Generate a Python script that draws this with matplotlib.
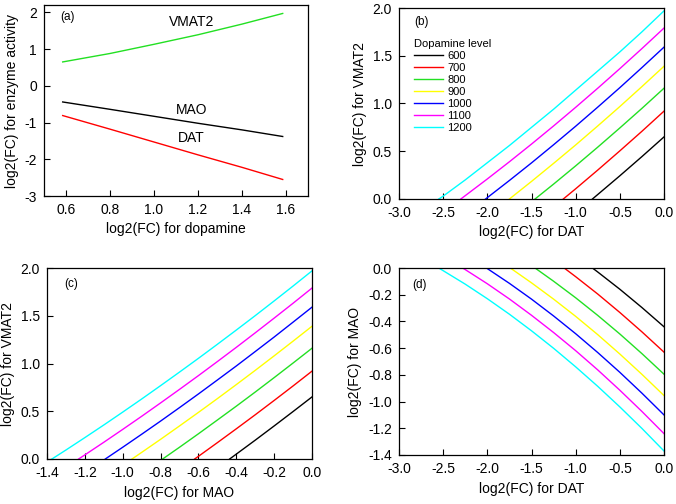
import matplotlib
matplotlib.use('Agg')
import matplotlib.pyplot as plt

plt.rcParams['font.family'] = ['Liberation Sans', 'DejaVu Sans']
plt.rcParams['axes.unicode_minus'] = False

# Panel (a): single enzyme change needed vs dopamine change.
dopamine_fc = [0.585, 0.8, 1.0, 1.2, 1.4, 1.585]
vmat2_fc = [0.65, 0.88, 1.13, 1.39, 1.68, 1.97]
mao_fc = [-0.44, -0.64, -0.83, -1.02, -1.20, -1.38]
dat_fc = [-0.81, -1.18, -1.53, -1.88, -2.22, -2.55]

levels = ['600', '700', '800', '900', '1000', '1100', '1200']
level_colors = ['black', 'red', '#22e022', '#ffff00', '#0000ff', '#ff00ff', '#00ffff']

# Panel (b): log2 FC of DAT (x) vs VMAT2 (y), one curve per dopamine level.
b_x = [
    [-0.81, -0.75, -0.5, -0.25, 0.0],
    [-1.14, -1.0, -0.75, -0.5, -0.25, 0.0],
    [-1.46, -1.25, -1.0, -0.75, -0.5, -0.25, 0.0],
    [-1.75, -1.5, -1.25, -1.0, -0.75, -0.5, -0.25, 0.0],
    [-2.02, -1.75, -1.5, -1.25, -1.0, -0.75, -0.5, -0.25, 0.0],
    [-2.30, -2.25, -2.0, -1.75, -1.5, -1.25, -1.0, -0.75, -0.5, -0.25, 0.0],
    [-2.55, -2.5, -2.25, -2.0, -1.75, -1.5, -1.25, -1.0, -0.75, -0.5, -0.25, 0.0],
]
b_y = [
    [0.0, 0.047, 0.243, 0.444, 0.65],
    [0.0, 0.107, 0.303, 0.504, 0.709, 0.92],
    [0.0, 0.156, 0.347, 0.543, 0.744, 0.949, 1.16],
    [0.0, 0.184, 0.373, 0.566, 0.765, 0.968, 1.177, 1.39],
    [0.0, 0.194, 0.378, 0.568, 0.762, 0.962, 1.166, 1.376, 1.59],
    [0.0, 0.035, 0.21, 0.39, 0.575, 0.765, 0.96, 1.16, 1.365, 1.575, 1.79],
    [0.0, 0.03, 0.20, 0.38, 0.56, 0.75, 0.94, 1.14, 1.34, 1.54, 1.75, 1.97],
]

# Panel (c): log2 FC of MAO (x) vs VMAT2 (y).
c_x = [
    [-0.435, -0.4, -0.3, -0.2, -0.1, 0.0],
    [-0.62, -0.6, -0.5, -0.4, -0.3, -0.2, -0.1, 0.0],
    [-0.789, -0.7, -0.6, -0.5, -0.4, -0.3, -0.2, -0.1, 0.0],
    [-0.951, -0.9, -0.8, -0.7, -0.6, -0.5, -0.4, -0.3, -0.2, -0.1, 0.0],
    [-1.092, -1.0, -0.9, -0.8, -0.7, -0.6, -0.5, -0.4, -0.3, -0.2, -0.1, 0.0],
    [-1.233, -1.2, -1.1, -1.0, -0.9, -0.8, -0.7, -0.6, -0.5, -0.4, -0.3, -0.2, -0.1, 0.0],
    [-1.374, -1.3, -1.2, -1.1, -1.0, -0.9, -0.8, -0.7, -0.6, -0.5, -0.4, -0.3, -0.2, -0.1, 0.0],
]
c_y = [
    [0.0, 0.051, 0.197, 0.346, 0.497, 0.65],
    [0.0, 0.028, 0.171, 0.316, 0.463, 0.613, 0.765, 0.92],
    [0.0, 0.123, 0.264, 0.408, 0.553, 0.701, 0.852, 1.005, 1.16],
    [0.0, 0.069, 0.206, 0.346, 0.488, 0.632, 0.779, 0.928, 1.080, 1.234, 1.39],
    [0.0, 0.123, 0.259, 0.397, 0.538, 0.681, 0.827, 0.974, 1.125, 1.277, 1.433, 1.59],
    [0.0, 0.043, 0.175, 0.31, 0.447, 0.587, 0.729, 0.873, 1.02, 1.169, 1.321, 1.475, 1.631, 1.79],
    [0.0, 0.094, 0.224, 0.356, 0.491, 0.628, 0.768, 0.910, 1.054, 1.201, 1.350, 1.501, 1.655, 1.811, 1.97],
]

# Panel (d): log2 FC of DAT (x) vs MAO (y).
d_x = [
    [-0.81, -0.75, -0.5, -0.25, 0.0],
    [-1.13, -1.0, -0.75, -0.5, -0.25, 0.0],
    [-1.46, -1.25, -1.0, -0.75, -0.5, -0.25, 0.0],
    [-1.74, -1.5, -1.25, -1.0, -0.75, -0.5, -0.25, 0.0],
    [-2.01, -1.75, -1.5, -1.25, -1.0, -0.75, -0.5, -0.25, 0.0],
    [-2.28, -2.25, -2.0, -1.75, -1.5, -1.25, -1.0, -0.75, -0.5, -0.25, 0.0],
    [-2.55, -2.5, -2.25, -2.0, -1.75, -1.5, -1.25, -1.0, -0.75, -0.5, -0.25, 0.0],
]
d_y = [
    [0.0, -0.03, -0.159, -0.296, -0.44],
    [0.0, -0.065, -0.195, -0.333, -0.478, -0.63],
    [0.0, -0.099, -0.223, -0.355, -0.494, -0.641, -0.795],
    [0.0, -0.111, -0.233, -0.362, -0.499, -0.644, -0.796, -0.955],
    [0.0, -0.115, -0.233, -0.359, -0.492, -0.633, -0.781, -0.937, -1.10],
    [0.0, -0.012, -0.118, -0.232, -0.354, -0.483, -0.619, -0.763, -0.915, -1.074, -1.24],
    [0.0, -0.02, -0.121, -0.23, -0.346, -0.47, -0.601, -0.74, -0.886, -1.04, -1.201, -1.37],
]

W, H = 676, 504


def add_axes(fig, left, top, right, bottom):
    # Box given in pixels from the top-left corner.
    ax = fig.add_axes([left / W, 1 - bottom / H, (right - left) / W, (bottom - top) / H])
    ax.tick_params(direction='in', length=4, width=0.8, labelsize=10, pad=5,
                   top=False, right=False)
    for spine in ax.spines.values():
        spine.set_linewidth(0.9)
    return ax


def draw_family(ax, xs, ys):
    for x, y, c, lab in zip(xs, ys, level_colors, levels):
        ax.plot(x, y, color=c, lw=1.0, label=lab)


def fmt(vals):
    return ['%.1f' % v for v in vals]


fig = plt.figure(figsize=(W / 100, H / 100), dpi=100)

# (a)
ax = add_axes(fig, 44, 5, 308, 196)
ax.plot(dopamine_fc, vmat2_fc, color=level_colors[2], lw=1.0)
ax.plot(dopamine_fc, mao_fc, color='black', lw=1.0)
ax.plot(dopamine_fc, dat_fc, color='red', lw=1.0)
ax.set_xlim(0.5, 1.7)
ax.set_ylim(-3, 2.2)
xt = [0.6, 0.8, 1.0, 1.2, 1.4, 1.6]
ax.set_xticks(xt)
ax.set_xticklabels(fmt(xt))
ax.set_yticks([-3, -2, -1, 0, 1, 2])
ax.set_xlabel('log2(FC) for dopamine', fontsize=10)
ax.set_ylabel('log2(FC) for enzyme activity', fontsize=10)
ax.text(0.573, 1.87, '(a)', fontsize=8.5, va='center')
ax.text(1.17, 1.74, 'VMAT2', fontsize=10, ha='center', va='center')
ax.text(1.17, -0.66, 'MAO', fontsize=10, ha='center', va='center')
ax.text(1.17, -1.42, 'DAT', fontsize=10, ha='center', va='center')

# (b)
ax = add_axes(fig, 399, 8, 664, 199)
draw_family(ax, b_x, b_y)
ax.set_xlim(-3, 0)
ax.set_ylim(0, 2)
xt = [-3.0, -2.5, -2.0, -1.5, -1.0, -0.5, 0.0]
yt = [0.0, 0.5, 1.0, 1.5, 2.0]
ax.set_xticks(xt)
ax.set_xticklabels(fmt(xt))
ax.set_yticks(yt)
ax.set_yticklabels(fmt(yt))
ax.set_xlabel('log2(FC) for DAT', fontsize=10)
ax.set_ylabel('log2(FC) for VMAT2', fontsize=10)
ax.text(-2.83, 1.82, '(b)', fontsize=8.5)
leg = ax.legend(title='Dopamine level', loc='upper left', bbox_to_anchor=(0.04, 0.86),
                frameon=False, fontsize=8, title_fontsize=8, handlelength=2.6,
                handletextpad=0.4, labelspacing=0.18, borderaxespad=0)
leg._legend_box.align = 'left'

# (c)
ax = add_axes(fig, 47, 268, 312, 459)
draw_family(ax, c_x, c_y)
ax.set_xlim(-1.4, 0)
ax.set_ylim(0, 2)
xt = [-1.4, -1.2, -1.0, -0.8, -0.6, -0.4, -0.2, 0.0]
ax.set_xticks(xt)
ax.set_xticklabels(fmt(xt))
ax.set_yticks(yt)
ax.set_yticklabels(fmt(yt))
ax.set_xlabel('log2(FC) for MAO', fontsize=10)
ax.set_ylabel('log2(FC) for VMAT2', fontsize=10)
ax.text(-1.31, 1.8, '(c)', fontsize=8.5)

# (d)
ax = add_axes(fig, 399, 268, 664, 455)
draw_family(ax, d_x, d_y)
ax.set_xlim(-3, 0)
ax.set_ylim(-1.4, 0)
xt = [-3.0, -2.5, -2.0, -1.5, -1.0, -0.5, 0.0]
yt = [-1.4, -1.2, -1.0, -0.8, -0.6, -0.4, -0.2, 0.0]
ax.set_xticks(xt)
ax.set_xticklabels(fmt(xt))
ax.set_yticks(yt)
ax.set_yticklabels(fmt(yt))
ax.set_xlabel('log2(FC) for DAT', fontsize=10)
ax.set_ylabel('log2(FC) for MAO', fontsize=10)
ax.text(-2.85, -0.15, '(d)', fontsize=8.5)

fig.savefig('out.png', dpi=100)
